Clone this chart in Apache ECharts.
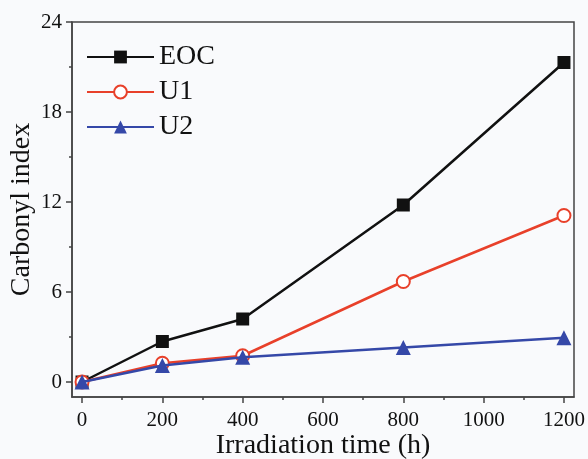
<!DOCTYPE html>
<html lang="en">
<head>
    <meta charset="UTF-8">
    <script src="https://cdn.jsdelivr.net/npm/echarts@6/dist/echarts.min.js"></script>
    <title>Carbonyl index</title>
    <style>
        html, body { margin: 0; padding: 0; background: #f9fafc; }
        #chart { width: 588px; height: 459px; }
    </style>
</head>
<body>
    <div id="chart"></div>
    <script>
        // irradiation time (h)
        var hours = [0, 200, 400, 800, 1200];
        // carbonyl index per sample
        var eoc = [0, 2.7, 4.2, 11.8, 21.3];
        var u1 = [0, 1.25, 1.75, 6.7, 11.1];
        var u2 = [0, 1.1, 1.65, 2.3, 2.95];

        var xTicks = [0, 200, 400, 600, 800, 1000, 1200];
        var xMinor = [100, 300, 500, 700, 900, 1100];
        var yTicks = [0, 6, 12, 18, 24];
        var yMinor = [3, 9, 15, 21];

        function pairs(ys) {
            return hours.map(function (h, i) { return [h, ys[i]]; });
        }

        var font = 'Liberation Serif';
        var axisColor = '#444';

        var chart = echarts.init(document.getElementById('chart'));
        chart.setOption({
            backgroundColor: '#f9fafc',
            animation: false,
            grid: {
                left: 72, right: 14, top: 22, bottom: 62,
                containLabel: false, outerBoundsMode: 'none',
                show: true, borderColor: axisColor, borderWidth: 1.5, backgroundColor: 'transparent'
            },
            legend: {
                orient: 'vertical',
                left: 81,
                top: 38,
                itemWidth: 67,
                itemHeight: 16,
                itemGap: 7,
                textStyle: { fontFamily: font, fontSize: 28, color: '#111' },
                data: ['EOC', 'U1', 'U2']
            },
            xAxis: [{
                type: 'value', min: -25, max: 1225, position: 'bottom',
                name: 'Irradiation time (h)', nameLocation: 'middle', nameGap: 35, nameMoveOverlap: false,
                nameTextStyle: { fontFamily: font, fontSize: 28, color: '#111' },
                axisLine: { show: true, onZero: false, lineStyle: { color: axisColor, width: 1.5 } },
                axisTick: { show: true, inside: false, length: 6, customValues: xTicks, lineStyle: { color: axisColor, width: 1.5 } },
                axisLabel: {
                    customValues: xTicks, margin: 13, fontFamily: font, fontSize: 21, color: '#111',
                    formatter: function (v) { return String(v); }
                },
                splitLine: { show: false }
            }, {
                type: 'value', min: -25, max: 1225, position: 'bottom', gridIndex: 0,
                axisLine: { show: false, onZero: false },
                axisTick: { show: true, inside: false, length: 3, customValues: xMinor, lineStyle: { color: axisColor, width: 1.5 } },
                axisLabel: { show: false },
                splitLine: { show: false }
            }],
            yAxis: [{
                type: 'value', min: -1, max: 24, position: 'left',
                name: 'Carbonyl index', nameLocation: 'middle', nameGap: 36, nameMoveOverlap: false,
                nameTextStyle: { fontFamily: font, fontSize: 28, color: '#111' },
                axisLine: { show: true, onZero: false, lineStyle: { color: axisColor, width: 1.5 } },
                axisTick: { show: true, inside: false, length: 6, customValues: yTicks, lineStyle: { color: axisColor, width: 1.5 } },
                axisLabel: { customValues: yTicks, margin: 10, fontFamily: font, fontSize: 21, color: '#111' },
                splitLine: { show: false }
            }, {
                type: 'value', min: -1, max: 24, position: 'left',
                axisLine: { show: false, onZero: false },
                axisTick: { show: true, inside: false, length: 3, customValues: yMinor, lineStyle: { color: axisColor, width: 1.5 } },
                axisLabel: { show: false },
                splitLine: { show: false }
            }],
            series: [{
                name: 'EOC', type: 'line', data: pairs(eoc),
                symbol: 'rect', symbolSize: 13,
                lineStyle: { color: '#111', width: 2.5 },
                itemStyle: { color: '#111' },
                z: 3
            }, {
                name: 'U1', type: 'line', data: pairs(u1),
                symbol: 'emptyCircle', symbolSize: 13,
                lineStyle: { color: '#e8402a', width: 2.5 },
                itemStyle: { color: '#e8402a', borderWidth: 1.5 },
                z: 4
            }, {
                name: 'U2', type: 'line', data: pairs(u2),
                symbol: 'triangle', symbolSize: 15,
                lineStyle: { color: '#3548a8', width: 2.5 },
                itemStyle: { color: '#3548a8' },
                z: 5
            }]
        });
    </script>
</body>
</html>
